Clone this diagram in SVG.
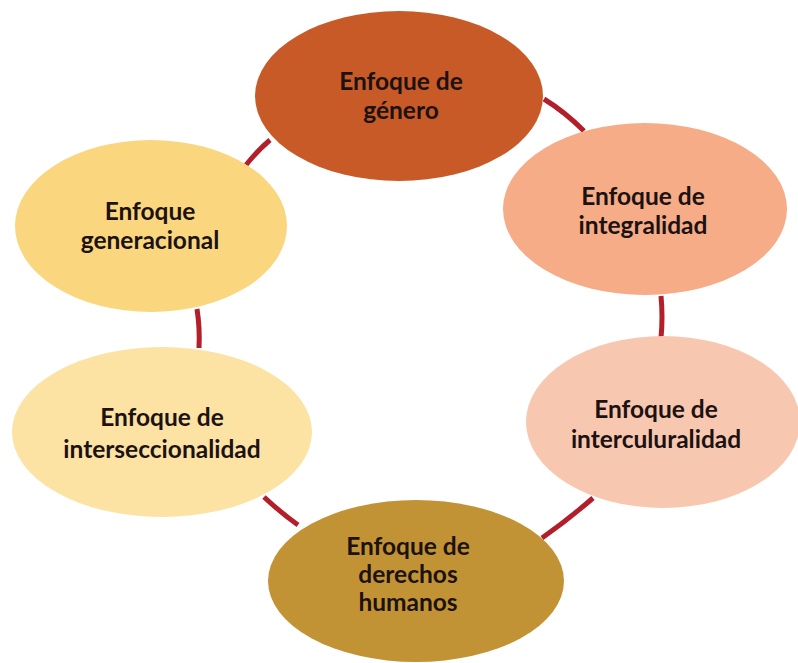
<svg xmlns="http://www.w3.org/2000/svg" width="798" height="663" viewBox="0 0 798 663">
<style>
.lbl{font-family:Lato,"Open Sans","Liberation Sans",sans-serif;font-weight:bold;font-size:24.5px;fill:#1c1212;text-anchor:middle}
.con{fill:none;stroke:#B21F2B;stroke-width:5;stroke-linecap:butt}
</style>
<rect width="798" height="663" fill="#ffffff"/>
<g id="connectors">
<path class="con" d="M270,140 Q258,150 246,165"/>
<path class="con" d="M544,99 Q565,112 584,131"/>
<path class="con" d="M661,296 Q663,317 661,338"/>
<path class="con" d="M593,498 Q569,519 542,538"/>
<path class="con" d="M264,497 Q280,512 298,525"/>
<path class="con" d="M197,309 Q200,328 199,348"/>
</g>
<g id="genero">
<ellipse cx="399" cy="96" rx="144" ry="85" fill="#C85A28"/>
<text class="lbl" x="401" y="90">Enfoque de</text>
<text class="lbl" x="401" y="119">género</text>
</g>
<g id="integralidad">
<ellipse cx="645" cy="209" rx="142" ry="86" fill="#F5AC87"/>
<text class="lbl" x="643" y="205">Enfoque de</text>
<text class="lbl" x="643" y="234">integralidad</text>
</g>
<g id="interculuralidad">
<ellipse cx="663" cy="422" rx="137" ry="86" fill="#F8C7B0"/>
<text class="lbl" x="656" y="418">Enfoque de</text>
<text class="lbl" x="656" y="448">interculuralidad</text>
</g>
<g id="derechos">
<ellipse cx="416" cy="581" rx="148" ry="81" fill="#C29335"/>
<text class="lbl" x="408" y="555">Enfoque de</text>
<text class="lbl" x="408" y="583">derechos</text>
<text class="lbl" x="408" y="611">humanos</text>
</g>
<g id="interseccionalidad">
<ellipse cx="162" cy="432" rx="150" ry="85" fill="#FCE2A3"/>
<text class="lbl" x="162" y="426">Enfoque de</text>
<text class="lbl" x="162" y="458">interseccionalidad</text>
</g>
<g id="generacional">
<ellipse cx="151" cy="226" rx="136" ry="86" fill="#FAD77E"/>
<text class="lbl" x="150" y="220">Enfoque</text>
<text class="lbl" x="150" y="249">generacional</text>
</g>
</svg>
